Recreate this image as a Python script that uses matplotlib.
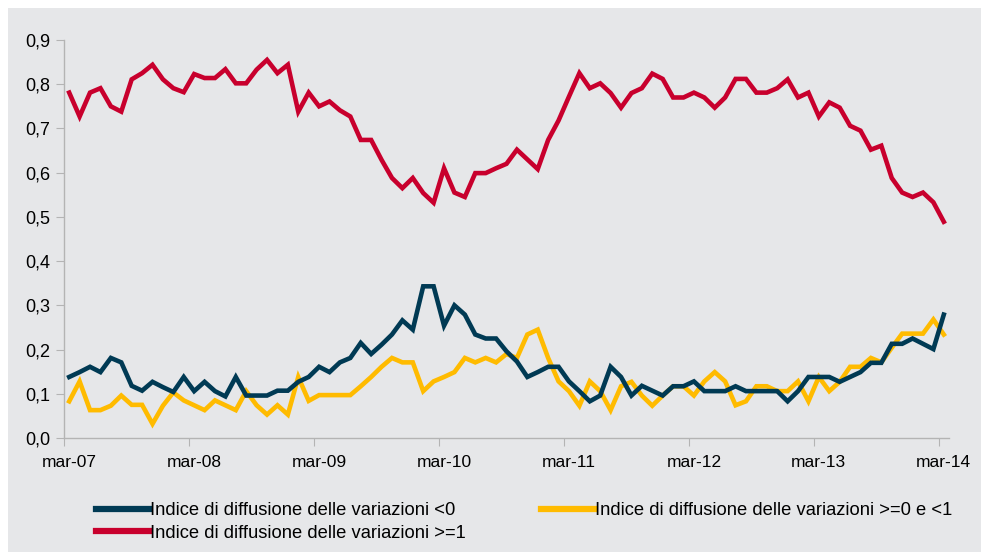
import matplotlib
matplotlib.use("Agg")
import matplotlib.pyplot as plt
from matplotlib.patches import Rectangle

plt.rcParams['font.family'] = ['Liberation Sans', 'DejaVu Sans']

# monthly observations mar-07 .. mar-14
years = ["07", "08", "09", "10", "11", "12", "13", "14"]
tick_labels = ["mar-" + y for y in years]

neg = [0.138, 0.149, 0.161, 0.149, 0.181, 0.171, 0.118, 0.107, 0.127, 0.115,
       0.104, 0.138, 0.106, 0.127, 0.106, 0.094, 0.138, 0.096, 0.096, 0.096,
       0.107, 0.107, 0.127, 0.138, 0.161, 0.149, 0.171, 0.181, 0.215, 0.190,
       0.211, 0.234, 0.266, 0.245, 0.343, 0.343, 0.254, 0.300, 0.279, 0.234,
       0.225, 0.225, 0.196, 0.173, 0.138, 0.149, 0.161, 0.161, 0.128, 0.106,
       0.083, 0.096, 0.161, 0.138, 0.096, 0.118, 0.107, 0.096, 0.117, 0.117,
       0.128, 0.106, 0.106, 0.106, 0.117, 0.106, 0.106, 0.106, 0.106, 0.083,
       0.106, 0.138, 0.138, 0.138, 0.127, 0.138, 0.149, 0.170, 0.170, 0.213,
       0.213, 0.225, 0.213, 0.201, 0.279]

mid = [0.083, 0.128, 0.063, 0.063, 0.073, 0.096, 0.075, 0.075, 0.032, 0.073,
       0.103, 0.085, 0.074, 0.063, 0.085, 0.074, 0.063, 0.106, 0.074, 0.053,
       0.074, 0.053, 0.138, 0.084, 0.097, 0.097, 0.097, 0.097, 0.117, 0.138,
       0.161, 0.181, 0.171, 0.171, 0.106, 0.128, 0.138, 0.149, 0.181, 0.171,
       0.181, 0.171, 0.190, 0.181, 0.234, 0.245, 0.181, 0.128, 0.106, 0.073,
       0.128, 0.106, 0.063, 0.117, 0.127, 0.096, 0.073, 0.096, 0.117, 0.117,
       0.096, 0.128, 0.149, 0.128, 0.074, 0.083, 0.117, 0.117, 0.106, 0.106,
       0.128, 0.083, 0.138, 0.106, 0.127, 0.161, 0.161, 0.181, 0.171, 0.204,
       0.236, 0.236, 0.236, 0.268, 0.234]

pos = [0.781, 0.727, 0.781, 0.791, 0.750, 0.738, 0.811, 0.825, 0.844, 0.811,
       0.791, 0.782, 0.823, 0.814, 0.814, 0.834, 0.802, 0.802, 0.833, 0.855,
       0.825, 0.844, 0.738, 0.781, 0.750, 0.761, 0.741, 0.727, 0.674, 0.674,
       0.629, 0.588, 0.565, 0.588, 0.554, 0.532, 0.610, 0.555, 0.545, 0.599,
       0.599, 0.610, 0.620, 0.652, 0.630, 0.608, 0.674, 0.718, 0.772, 0.825,
       0.791, 0.802, 0.780, 0.747, 0.780, 0.791, 0.824, 0.812, 0.770, 0.770,
       0.781, 0.770, 0.747, 0.770, 0.812, 0.812, 0.781, 0.781, 0.791, 0.811,
       0.770, 0.781, 0.727, 0.759, 0.747, 0.706, 0.695, 0.652, 0.661, 0.588,
       0.555, 0.545, 0.555, 0.533, 0.489]

labels = ["Indice di diffusione delle variazioni <0",
          "Indice di diffusione delle variazioni >=0 e <1",
          "Indice di diffusione delle variazioni >=1"]

c_neg = "#003a54"
c_mid = "#ffbb00"
c_pos = "#c8002d"
bg = "#e6e7e9"
spine_c = "#b4b4b4"

W, H = 981, 558
fig = plt.figure(figsize=(W / 100, H / 100), dpi=100)
fig.patch.set_facecolor("white")
fig.add_artist(Rectangle((8 / W, 6 / H), 1 - 8 / W, 1 - 14 / H,
                         transform=fig.transFigure, facecolor=bg,
                         edgecolor="none", zorder=0))

ax = fig.add_axes([64 / W, 1 - 438 / H, (949 - 64) / W, (438 - 40) / H])
ax.set_facecolor(bg)
ax.patch.set_alpha(0)

n = len(neg)
x = list(range(n))
l1, = ax.plot(x, neg, color=c_neg, lw=3.3, solid_joinstyle="miter", zorder=3)
l2, = ax.plot(x, mid, color=c_mid, lw=3.3, solid_joinstyle="miter", zorder=2)
l3, = ax.plot(x, pos, color=c_pos, lw=3.3, solid_joinstyle="miter", zorder=2)

ax.set_xlim(-0.5, n - 0.5)
ax.set_ylim(0, 0.9)
yt = [i / 10 for i in range(10)]
ax.set_yticks(yt)
ax.set_yticklabels([f"{v:.1f}".replace(".", ",") for v in yt], fontsize=13)

# major ticks at year boundaries, labels centred on each March
ax.set_xticks([i * 12 - 0.5 for i in range(len(years))])
ax.set_xticklabels([])
ax.set_xticks([i * 12 for i in range(len(years))], minor=True)
ax.set_xticklabels(tick_labels, minor=True, fontsize=12.5)
ax.tick_params(axis="x", which="minor", length=0, pad=12)
ax.tick_params(axis="x", which="major", length=6, color=spine_c)
ax.tick_params(axis="y", length=6, color=spine_c, pad=4)

for s in ["top", "right"]:
    ax.spines[s].set_visible(False)
for s in ["left", "bottom"]:
    ax.spines[s].set_color(spine_c)
    ax.spines[s].set_linewidth(1.0)

leg = fig.legend([l1, l3, l2], [labels[0], labels[2], labels[1]],
                 ncol=2, loc="upper left", bbox_to_anchor=(96 / W, 1 - 502 / H),
                 frameon=False, fontsize=13.2, handlelength=2.9,
                 handletextpad=0.05, labelspacing=0.3, columnspacing=4.1,
                 borderaxespad=0, borderpad=0)
for h in leg.get_lines():
    h.set_linewidth(4.5)

fig.savefig("out.png", dpi=100, facecolor=fig.get_facecolor())
